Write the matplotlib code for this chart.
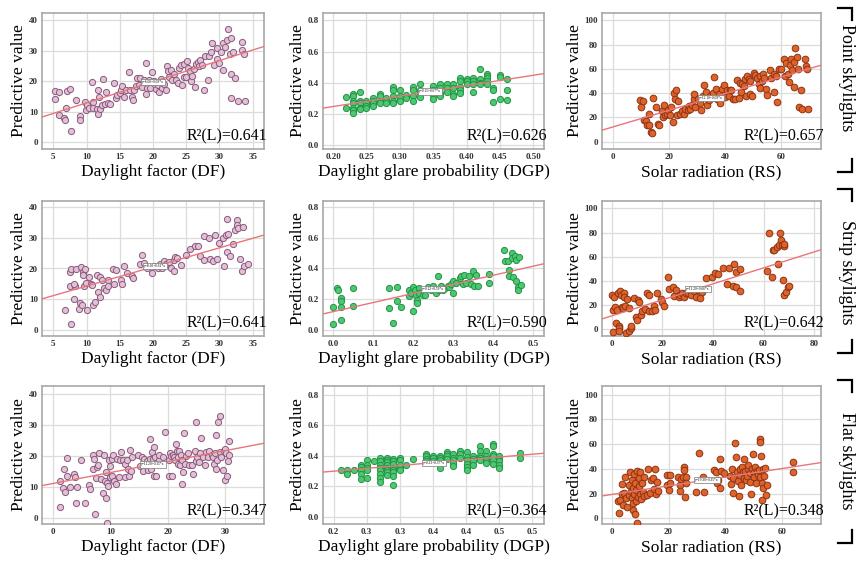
import numpy as np
import matplotlib
matplotlib.use("Agg")
import matplotlib.pyplot as plt

plt.rcParams['font.family'] = ['Liberation Serif', 'DejaVu Serif']

# ---- data (x, predictive value) ----
df_point = [(5.2, 16.8), (5.3, 14.1), (5.9, 16.5), (5.8, 8.8), (6.6, 8.0), (6.8, 7.4), (6.9, 11.3), (7.0, 16.8),
            (7.5, 17.6), (7.6, 3.8), (8.4, 14.0), (9.0, 8.5), (9.0, 7.2), (9.8, 13.2), (9.9, 10.5), (10.1, 12.3),
            (10.4, 11.2), (10.8, 19.8), (10.9, 13.2), (11.0, 11.3), (11.5, 11.0), (11.8, 17.1), (11.9, 14.9),
            (11.8, 9.3), (12.0, 11.0), (12.3, 12.1), (12.5, 20.9), (12.8, 12.4), (13.0, 16.5), (13.3, 12.9),
            (13.6, 12.6), (14.1, 19.4), (14.5, 14.4), (14.6, 15.5), (15.0, 16.2), (15.2, 17.3), (15.4, 18.4),
            (15.7, 14.9), (16.0, 17.3), (16.4, 23.1), (16.6, 17.3), (16.9, 14.9), (17.0, 14.0), (17.1, 17.1),
            (17.4, 18.4), (17.6, 21.2), (17.9, 18.7), (18.0, 21.2), (18.4, 18.1), (18.6, 20.3), (18.9, 15.9),
            (19.0, 26.0), (19.1, 17.9), (19.4, 20.3), (19.6, 17.9), (19.9, 23.1), (20.2, 20.2), (20.4, 17.6),
            (20.7, 18.7), (20.9, 16.5), (21.2, 20.9), (21.3, 17.9), (21.7, 19.2), (21.9, 17.0), (22.1, 24.9),
            (22.2, 23.4), (22.4, 21.4), (22.7, 23.6), (22.8, 20.3), (23.1, 22.3), (23.4, 20.5), (23.7, 19.5),
            (23.9, 24.2), (24.2, 25.3), (24.4, 18.8), (24.6, 21.3), (24.7, 25.8), (24.9, 21.3), (25.1, 26.6),
            (25.2, 24.5), (25.5, 23.4), (25.7, 20.2), (25.9, 21.8), (26.1, 24.0), (26.3, 18.1), (26.4, 25.8),
            (26.7, 26.4), (26.9, 24.9), (27.1, 26.9), (27.4, 25.3), (27.6, 17.0), (27.8, 28.2), (28.2, 20.3),
            (28.4, 28.2), (28.7, 29.7), (28.9, 32.4), (29.2, 25.3), (29.6, 30.8), (29.7, 27.2), (29.9, 26.0),
            (30.2, 29.7), (30.5, 23.6), (30.6, 32.6), (30.8, 31.3), (31.2, 33.7), (31.3, 37.0), (31.6, 29.1),
            (31.7, 14.6), (31.8, 34.1), (31.8, 22.3), (32.1, 29.7), (32.4, 21.2), (32.8, 13.5), (33.4, 33.0),
            (33.4, 30.2), (33.7, 29.1), (33.8, 13.5)]

dgp_point = [(0.22, 0.305), (0.22, 0.239),
             (0.23, 0.327), (0.23, 0.311), (0.23, 0.283), (0.23, 0.268), (0.23, 0.239), (0.23, 0.224), (0.23, 0.202),
             (0.24, 0.34), (0.24, 0.283), (0.24, 0.268), (0.24, 0.239), (0.24, 0.228),
             (0.25, 0.283), (0.25, 0.268), (0.25, 0.252), (0.25, 0.239),
             (0.26, 0.30), (0.26, 0.283), (0.26, 0.268), (0.26, 0.252),
             (0.27, 0.327), (0.27, 0.311), (0.27, 0.283), (0.27, 0.268),
             (0.28, 0.30), (0.28, 0.283), (0.28, 0.268),
             (0.29, 0.371), (0.29, 0.355), (0.29, 0.311), (0.29, 0.283), (0.29, 0.268),
             (0.30, 0.349), (0.30, 0.311), (0.30, 0.30), (0.30, 0.283),
             (0.31, 0.322), (0.31, 0.30),
             (0.32, 0.371), (0.32, 0.349), (0.32, 0.311), (0.32, 0.283),
             (0.33, 0.393), (0.33, 0.355), (0.33, 0.333), (0.33, 0.305),
             (0.35, 0.377), (0.35, 0.349), (0.35, 0.322), (0.35, 0.296),
             (0.36, 0.388), (0.36, 0.362), (0.36, 0.333), (0.36, 0.311),
             (0.37, 0.393), (0.37, 0.362), (0.37, 0.34),
             (0.38, 0.393), (0.38, 0.366), (0.38, 0.327), (0.38, 0.311),
             (0.39, 0.432), (0.39, 0.41), (0.39, 0.371), (0.39, 0.349), (0.39, 0.333),
             (0.40, 0.421), (0.40, 0.41), (0.40, 0.393),
             (0.41, 0.428), (0.41, 0.41), (0.41, 0.393), (0.41, 0.34),
             (0.42, 0.487), (0.42, 0.421), (0.42, 0.399), (0.42, 0.388),
             (0.43, 0.458), (0.43, 0.443), (0.43, 0.428), (0.43, 0.41), (0.43, 0.393),
             (0.44, 0.366), (0.44, 0.349), (0.44, 0.274),
             (0.45, 0.45), (0.45, 0.436), (0.45, 0.296),
             (0.46, 0.421), (0.46, 0.355), (0.46, 0.289)]

rs_point = [(9.9, 34.0), (10.1, 28.5), (10.8, 33.2), (11.3, 17.7), (12.0, 16.8), (12.2, 14.1), (12.8, 23.1),
            (12.8, 14.1), (13.7, 8.2), (14.0, 6.8), (14.4, 35.9), (15.6, 28.5), (16.0, 14.9), (16.4, 13.6),
            (17.6, 25.0), (17.9, 20.4), (18.2, 29.9), (18.8, 21.7), (19.2, 23.1), (19.6, 25.8), (20.4, 21.7),
            (20.8, 28.5), (21.5, 16.3), (22.0, 40.2), (22.3, 35.3), (22.7, 42.9), (23.0, 22.3), (23.2, 33.2),
            (23.9, 23.1), (24.7, 25.0), (25.3, 23.1), (25.9, 26.6), (26.7, 25.8), (27.1, 29.3), (27.7, 27.2),
            (28.3, 30.4), (28.9, 35.3), (29.1, 39.4), (29.5, 28.5), (30.3, 35.3), (31.0, 32.1), (31.5, 25.8),
            (32.2, 37.5), (32.7, 46.7), (33.4, 41.3), (33.7, 29.9), (34.2, 34.0), (34.8, 38.0), (35.7, 40.2),
            (36.2, 53.0), (36.9, 43.5), (37.2, 35.3), (37.8, 39.4), (38.4, 32.1), (38.9, 43.5), (39.5, 46.7),
            (40.1, 36.7), (40.7, 42.9), (41.3, 37.5), (41.7, 42.9), (42.2, 42.9), (42.9, 35.3), (43.7, 35.3),
            (44.3, 51.1), (44.9, 35.9), (45.3, 48.4), (45.7, 40.8), (46.1, 47.6), (46.7, 45.7), (47.3, 51.6),
            (47.6, 38.0), (47.9, 53.8), (48.5, 51.6), (48.8, 39.4), (49.0, 50.3), (49.6, 38.0), (50.2, 56.5),
            (50.8, 54.9), (51.4, 52.2), (52.0, 47.6), (52.4, 44.0), (52.6, 53.8), (53.2, 50.3), (53.6, 56.0),
            (54.0, 52.2), (54.7, 43.5), (55.0, 38.6), (55.9, 58.7), (56.4, 52.2), (57.4, 41.3), (57.6, 56.0),
            (58.3, 54.3), (58.6, 32.6), (59.1, 60.1), (60.0, 60.1), (60.9, 67.9), (61.5, 54.3), (61.9, 65.2),
            (62.3, 56.0), (62.7, 48.9), (63.1, 63.0), (63.5, 68.5), (63.9, 59.2), (64.5, 65.8), (64.7, 44.8),
            (65.0, 77.4), (65.7, 70.1), (65.9, 59.8), (66.3, 28.5), (66.9, 42.9), (67.5, 27.2), (68.6, 68.5),
            (69.0, 62.5), (69.2, 59.8), (69.5, 26.6)]

df_strip = [(6.8, 6.6), (7.5, 18.9), (7.6, 19.7), (7.5, 14.2), (7.6, 2.0), (8.1, 10.2), (8.3, 14.2), (8.1, 15.1),
            (8.4, 19.9), (8.9, 6.9), (9.0, 8.7), (9.1, 20.5), (9.3, 8.0), (9.4, 18.9), (9.5, 17.8), (9.6, 14.2),
            (9.8, 19.9), (9.9, 15.3), (10.1, 6.6), (10.3, 17.3), (10.6, 14.9), (10.8, 14.5), (11.0, 8.0),
            (11.2, 9.1), (11.6, 18.0), (11.8, 12.4), (12.1, 17.3), (12.1, 10.7), (12.3, 16.4), (12.6, 13.8),
            (13.0, 13.1), (13.2, 16.2), (13.3, 14.2), (14.0, 19.9), (14.2, 14.9), (14.5, 19.5), (15.2, 16.2),
            (15.4, 14.9), (15.7, 20.8), (16.1, 18.4), (16.9, 17.5), (17.0, 17.0), (18.0, 21.6), (18.4, 24.4),
            (18.7, 21.9), (19.1, 20.3), (19.9, 18.6), (20.2, 20.8), (20.7, 20.3), (21.1, 21.6), (21.4, 20.3),
            (21.7, 22.5), (21.9, 21.6), (22.4, 22.2), (22.7, 20.3), (23.1, 22.7), (23.2, 19.2), (23.3, 23.6),
            (23.6, 23.3), (24.2, 21.1), (24.9, 24.4), (25.6, 26.2), (26.3, 27.3), (26.7, 27.3), (27.1, 24.0),
            (27.6, 30.6), (27.7, 22.7), (28.5, 29.8), (28.6, 23.0), (29.0, 22.5), (29.3, 30.8), (29.7, 23.0),
            (30.0, 28.4), (30.5, 29.8), (30.7, 20.8), (31.0, 30.8), (31.1, 36.1), (31.1, 25.3), (31.3, 31.2),
            (31.6, 24.2), (32.1, 27.9), (32.4, 32.5), (32.6, 35.6), (32.7, 34.2), (32.8, 33.1), (33.1, 23.0),
            (33.4, 19.2), (33.6, 33.6), (33.7, 20.8), (34.3, 21.6)]

dgp_strip = [(0.0, 0.152), (0.0, 0.039), (0.011, 0.272), (0.012, 0.261), (0.021, 0.207), (0.021, 0.191),
             (0.021, 0.152), (0.021, 0.065), (0.050, 0.272), (0.050, 0.157), (0.139, 0.272), (0.139, 0.141),
             (0.151, 0.043), (0.159, 0.278), (0.159, 0.191), (0.170, 0.148), (0.19, 0.261), (0.19, 0.222),
             (0.195, 0.243), (0.2, 0.278), (0.201, 0.120), (0.205, 0.261), (0.207, 0.228), (0.21, 0.196),
             (0.211, 0.178), (0.214, 0.272), (0.216, 0.243), (0.224, 0.228), (0.231, 0.228), (0.237, 0.278),
             (0.245, 0.261), (0.251, 0.283), (0.257, 0.239), (0.261, 0.352), (0.264, 0.261), (0.270, 0.287),
             (0.274, 0.261), (0.280, 0.272), (0.286, 0.287), (0.290, 0.278), (0.295, 0.300), (0.3, 0.315),
             (0.3, 0.239), (0.307, 0.304), (0.317, 0.337), (0.320, 0.348), (0.324, 0.300), (0.328, 0.359),
             (0.332, 0.304), (0.340, 0.348), (0.344, 0.300), (0.349, 0.380), (0.351, 0.287), (0.357, 0.359),
             (0.361, 0.283), (0.390, 0.365), (0.390, 0.304), (0.427, 0.517), (0.430, 0.446), (0.436, 0.446),
             (0.440, 0.391), (0.440, 0.348), (0.446, 0.500), (0.448, 0.467), (0.450, 0.343), (0.455, 0.478),
             (0.456, 0.457), (0.458, 0.315), (0.461, 0.278), (0.463, 0.261), (0.465, 0.474), (0.469, 0.293)]

rs_strip = [(0.1, 28.5), (0.4, 16.3), (0.7, -2.2), (1.1, 26.6), (1.5, 18.5), (1.7, 5.4), (2.0, 15.8), (2.4, 30.4),
            (2.8, 2.7), (3.0, 1.4), (3.0, -1.4), (3.3, 32.1), (3.7, 28.5), (4.1, 18.5), (4.4, 17.7), (5.0, 30.4),
            (5.0, 26.6), (5.4, 19.7), (5.7, -2.7), (6.0, 25.0), (6.7, 17.7), (7.0, -1.4), (7.7, 1.4), (7.7, 2.7),
            (9.0, 25.8), (9.7, 10.3), (9.9, 8.2), (10.3, 24.2), (11.0, 22.3), (11.6, 12.2), (12.0, 14.9),
            (13.0, 16.8), (13.9, 30.4), (14.7, 28.5), (14.9, 14.9), (16.0, 14.9), (16.9, 19.6), (17.3, 15.8),
            (17.9, 29.9), (19.6, 25.0), (20.0, 22.3), (20.5, 19.6), (22.2, 42.9), (22.6, 33.2), (24.2, 34.8),
            (24.5, 27.2), (25.3, 32.6), (26.6, 26.6), (27.1, 28.5), (27.9, 29.9), (28.4, 26.6), (29.2, 29.9),
            (30.2, 30.4), (30.8, 32.6), (31.5, 28.5), (32.4, 32.1), (33.2, 26.6), (34.1, 32.6), (34.8, 25.8),
            (35.8, 31.3), (37.2, 42.1), (39.8, 43.5), (40.7, 46.2), (42.1, 45.7), (43.8, 51.1), (45.6, 37.5),
            (46.4, 51.1), (47.8, 35.9), (48.3, 53.8), (49.1, 34.8), (49.3, 47.6), (50.7, 50.3), (50.9, 32.1),
            (61.5, 48.4), (62.3, 79.3), (63.2, 42.9), (63.6, 65.8), (64.2, 65.8), (65.2, 67.9), (65.9, 54.3),
            (66.3, 69.3), (66.6, 79.3), (66.8, 73.9), (67.2, 70.1), (67.6, 40.8), (67.9, 68.5), (67.9, 28.5),
            (68.1, 70.7), (68.9, 31.3), (69.8, 34.8), (70.2, 35.9)]

df_flat = [(1.3, 3.8), (1.3, 11.9), (1.7, 9.7), (2.0, 15.9), (2.1, 8.6), (2.4, 19.5), (2.5, 13.5), (3.0, 10.1),
           (3.7, 14.1), (3.9, 13.3), (4.0, 4.9), (4.1, 10.1), (4.8, 18.7), (5.6, 5.1), (6.3, 10.8), (6.4, 9.4),
           (6.9, 20.5), (7.0, 15.7), (7.2, 19.1), (7.3, 1.4), (7.5, 13.0), (7.6, 16.5), (7.9, 17.3), (8.0, 20.9),
           (8.4, 12.6), (8.7, 8.3), (8.9, 20.5), (9.0, 11.9), (9.2, 6.5), (9.3, 14.8), (9.4, -1.4), (9.4, 11.4),
           (9.6, 10.5), (9.8, 18.7), (9.9, 13.3), (10.0, 16.8), (10.2, 19.1), (10.3, 13.7), (10.5, 20.2),
           (10.7, 11.9), (10.9, 11.1), (11.1, 19.1), (11.5, 13.3), (11.7, 18.9), (11.9, 21.3), (12.2, 18.7),
           (12.5, 13.3), (12.6, 17.6), (12.9, 18.7), (13.0, 15.9), (13.2, 13.7), (13.4, 21.9), (13.6, 15.1),
           (13.8, 19.8), (14.8, 20.2), (15.1, 16.8), (15.5, 19.8), (15.7, 15.1), (15.9, 19.1), (16.3, 18.4),
           (16.5, 15.5), (16.8, 19.1), (16.9, 25.6), (17.1, 15.7), (17.2, 21.3), (17.4, 19.1), (17.5, 23.0),
           (17.6, 13.5), (17.8, 19.8), (17.9, 13.5), (18.4, 18.7), (18.5, 20.2), (19.1, 19.8), (19.5, 27.6),
           (20.1, 18.7), (20.2, 13.7), (20.3, 20.9), (20.5, 20.0), (20.7, 13.7), (20.8, 20.5), (21.1, 19.8),
           (21.3, 18.9), (21.4, 23.8), (21.5, 21.6), (21.7, 17.6), (21.8, 19.8), (22.0, 21.6), (22.1, 17.0),
           (22.2, 20.5), (22.4, 11.1), (22.5, 18.9), (22.6, 14.8), (22.8, 27.4), (23.0, 17.6), (23.1, 20.0),
           (23.4, 20.9), (23.7, 17.3), (24.1, 17.0), (24.4, 14.1), (24.7, 21.6), (24.8, 18.4), (24.9, 31.0),
           (25.1, 19.8), (25.4, 18.1), (25.5, 21.1), (25.7, 25.9), (26.1, 19.8), (26.4, 17.3), (26.7, 21.3),
           (27.0, 19.8), (27.2, 21.6), (27.6, 20.2), (27.8, 19.8), (28.0, 17.6), (28.2, 20.9), (28.3, 26.7),
           (28.4, 15.9), (28.6, 18.9), (28.7, 31.0), (29.0, 21.3), (29.1, 33.0), (29.3, 19.8), (29.5, 15.5),
           (29.7, 21.6), (29.9, 12.4), (30.0, 22.4), (30.1, 21.1), (30.3, 13.7), (30.5, 18.4), (30.6, 24.9),
           (30.7, 20.5)]

dgp_flat = [(0.211, 0.304), (0.221, 0.304), (0.221, 0.283), (0.231, 0.309),
            (0.241, 0.343), (0.241, 0.326), (0.241, 0.304), (0.241, 0.278), (0.241, 0.25),
            (0.251, 0.374), (0.251, 0.343), (0.251, 0.322), (0.251, 0.304), (0.251, 0.257),
            (0.261, 0.365),
            (0.270, 0.387), (0.270, 0.365), (0.270, 0.343), (0.270, 0.322), (0.270, 0.304), (0.270, 0.283),
            (0.270, 0.257), (0.270, 0.228),
            (0.280, 0.387), (0.280, 0.374), (0.280, 0.359), (0.280, 0.343), (0.280, 0.322), (0.280, 0.304),
            (0.280, 0.293), (0.280, 0.272),
            (0.290, 0.380), (0.290, 0.365), (0.290, 0.348), (0.290, 0.322), (0.290, 0.309), (0.290, 0.293),
            (0.290, 0.265), (0.290, 0.207),
            (0.300, 0.387), (0.300, 0.370), (0.300, 0.343), (0.300, 0.322), (0.300, 0.304),
            (0.310, 0.343), (0.320, 0.380),
            (0.340, 0.413), (0.340, 0.396), (0.340, 0.380), (0.340, 0.365),
            (0.350, 0.400), (0.350, 0.387), (0.350, 0.365),
            (0.361, 0.396), (0.361, 0.387), (0.361, 0.374), (0.361, 0.322),
            (0.371, 0.422), (0.371, 0.413), (0.371, 0.396), (0.371, 0.380),
            (0.381, 0.409), (0.381, 0.387), (0.381, 0.370), (0.381, 0.352), (0.381, 0.330),
            (0.391, 0.435), (0.391, 0.409), (0.391, 0.387),
            (0.401, 0.426), (0.401, 0.393), (0.401, 0.370), (0.401, 0.348), (0.401, 0.326), (0.401, 0.309),
            (0.411, 0.396), (0.411, 0.380), (0.411, 0.365), (0.411, 0.343),
            (0.421, 0.467), (0.421, 0.430), (0.421, 0.402), (0.421, 0.387), (0.421, 0.370),
            (0.431, 0.430), (0.431, 0.400), (0.431, 0.380), (0.431, 0.365), (0.431, 0.352),
            (0.441, 0.478), (0.441, 0.467), (0.441, 0.413), (0.441, 0.396), (0.441, 0.374), (0.441, 0.348),
            (0.450, 0.400), (0.450, 0.380), (0.450, 0.365), (0.450, 0.337), (0.450, 0.322),
            (0.482, 0.417), (0.482, 0.387)]

rs_flat = [(2.0, 14.3), (2.4, 4.6), (2.9, 14.9), (3.5, 27.8), (3.5, 19.7), (3.9, 10.8), (4.4, 20.8), (4.7, 33.2),
           (5.1, 16.2), (5.3, 9.5), (5.9, 18.9), (6.2, 27.0), (6.5, 37.8), (6.7, 22.4), (7.1, 16.2), (7.1, 31.1),
           (7.4, 24.3), (7.4, 6.8), (7.6, 12.7), (7.9, 35.9), (7.9, 19.7), (8.2, 28.9), (8.2, 3.5), (8.6, 23.0),
           (8.6, 14.3), (8.8, -3.5), (8.8, 38.6), (9.1, 17.6), (9.4, 32.4), (9.4, 26.2), (9.8, 19.7), (10.0, 37.8),
           (10.2, 15.4), (10.6, 28.4), (10.9, 21.6), (11.2, 33.2), (11.4, 18.1), (12.4, 18.9), (12.6, 39.7),
           (13.3, 20.3), (13.8, 31.1), (14.5, 32.4), (14.9, 23.5), (15.3, 39.7), (15.6, 19.7), (15.9, 29.7),
           (16.1, 22.4), (19.4, 35.1), (19.6, 27.0), (20.0, 23.0), (20.4, 35.1), (20.6, 28.9), (23.5, 33.8),
           (23.9, 27.0), (24.1, 22.4), (24.4, 31.6), (25.1, 33.2), (25.3, 41.9), (25.5, 39.2), (25.9, 17.6),
           (26.2, 33.2), (26.2, 28.4), (29.8, 21.6), (30.6, 52.7), (32.1, 33.8), (32.4, 21.6), (36.1, 39.2),
           (36.8, 37.8), (37.1, 28.9), (37.6, 31.1), (38.0, 47.8), (38.0, 24.3), (38.5, 38.6), (39.4, 37.0),
           (41.8, 34.3), (42.0, 27.8), (42.4, 39.7), (42.7, 20.8), (42.9, 32.4), (43.5, 60.8), (43.9, 49.5),
           (44.1, 37.8), (44.4, 30.5), (44.7, 18.1), (45.1, 39.7), (45.3, 35.1), (45.5, 27.0), (45.9, 41.9),
           (46.2, 37.8), (46.5, 32.4), (46.7, 47.8), (47.1, 38.6), (47.4, 31.1), (47.6, 34.3), (47.9, 39.7),
           (48.2, 43.2), (48.6, 37.0), (48.8, 29.7), (49.1, 19.7), (49.4, 39.7), (49.8, 52.2), (50.0, 37.8),
           (50.2, 33.2), (50.6, 41.9), (50.9, 28.4), (51.2, 38.6), (51.4, 35.1), (51.8, 39.2), (52.1, 33.2),
           (52.4, 64.1), (52.4, 61.4), (52.6, 50.5), (52.9, 28.9), (52.9, 14.9), (53.3, 39.7), (53.5, 24.3),
           (53.8, 34.3), (54.1, 40.5), (54.5, 18.9), (54.7, 27.0), (63.9, 45.9), (63.9, 37.8)]

# fitted lines (intercept, slope) and the R2 values printed on each panel
fits = [(6.0, 0.693), (0.111, 0.672), (12.1, 0.686),
        (8.1, 0.62), (0.119, 0.59), (11.2, 0.66),
        (11.2, 0.352), (0.225, 0.371), (19.3, 0.349)]
r2_values = ["0.641", "0.626", "0.657", "0.641", "0.590", "0.642", "0.347", "0.364", "0.348"]
eq_x = [20, 0.345, 35, 20.3, 0.25, 34, 17.4, 0.352, 33.5]

x_labels = ["Daylight factor (DF)", "Daylight glare probability (DGP)", "Solar radiation (RS)"]
row_labels = ["Point skylights", "Strip skylights", "Flat skylights"]

xlims = [(3.3, 36.7), (0.185, 0.516), (-3.8, 74.2),
         (3.3, 36.7), (-0.025, 0.527), (-3.8, 82.7),
         (-1.9, 36.7), (0.184, 0.518), (-3.5, 73.8)]
ylims = [(-2.2, 42.4), (-0.028, 0.848), (-6, 106),
         (-1.9, 41.9), (-0.039, 0.837), (-5.4, 106),
         (-1.8, 42.5), (-0.048, 0.859), (-4.6, 107)]
xticks = [np.arange(5, 36, 5), np.arange(0.20, 0.51, 0.05), np.arange(0, 61, 20),
          np.arange(5, 36, 5), np.arange(0.0, 0.51, 0.1), np.arange(0, 81, 20),
          np.arange(0, 31, 10), np.arange(0.20, 0.51, 0.05), np.arange(0, 61, 20)]
xtick_fmt = ["{:.0f}", "{:.2f}", "{:.0f}", "{:.0f}", "{:.1f}", "{:.0f}", "{:.0f}", None, "{:.0f}"]
flat_dgp_ticklabels = ["0.2", "0.3", "0.3", "0.4", "0.4", "0.5", "0.5"]
yticks = [np.arange(0, 41, 10), np.arange(0, 0.81, 0.2), np.arange(0, 101, 20)]
ytick_fmt = ["{:.0f}", "{:.1f}", "{:.0f}"]

datasets = [df_point, dgp_point, rs_point, df_strip, dgp_strip, rs_strip, df_flat, dgp_flat, rs_flat]
face_cols = ["#e2c0d6", "#4cc96e", "#e0622b"]
edge_cols = ["#8a5a7c", "#24924a", "#8a3414"]
marker_size = [20, 20, 23]

W, H = 857, 561
fig = plt.figure(figsize=(W / 100, H / 100), dpi=100)

col_lr = [(42, 264), (323, 544), (602, 821)]
row_tb = [(13, 149), (201, 336), (386, 524)]

for i, pts in enumerate(datasets):
    r, c = divmod(i, 3)
    l, rr = col_lr[c]
    t, b = row_tb[r]
    ax = fig.add_axes([l / W, 1 - b / H, (rr - l) / W, (b - t) / H])
    xy = np.array(pts)
    ax.grid(True, color="#dcdcdc", linewidth=0.9)
    ax.set_axisbelow(True)
    ax.scatter(xy[:, 0], xy[:, 1], s=marker_size[c], c=face_cols[c], edgecolors=edge_cols[c],
               linewidths=0.7, zorder=3)
    x0, x1 = xlims[i]
    a, k = fits[i]
    xs = np.array([x0, x1])
    ax.plot(xs, a + k * xs, color="#e8767a", linewidth=1.0, zorder=4)
    ex = eq_x[i]
    ax.text(ex, a + k * ex, "y={:.2f}+{:.2f}*x".format(a, k), fontsize=2.6,
            ha="center", va="center", zorder=5,
            bbox=dict(boxstyle="square,pad=0.3", fc="white", ec="#777777", lw=0.5))
    ax.set_xlim(x0, x1)
    ax.set_ylim(*ylims[i])
    ax.set_xticks(xticks[i])
    if xtick_fmt[i] is None:
        ax.set_xticklabels(flat_dgp_ticklabels)
    else:
        ax.set_xticklabels([xtick_fmt[i].format(v) for v in xticks[i]])
    ax.set_yticks(yticks[c])
    ax.set_yticklabels([ytick_fmt[c].format(v) for v in yticks[c]])
    ax.tick_params(length=0, pad=3, labelsize=6.5, labelcolor="#333333")
    for lab in ax.get_xticklabels() + ax.get_yticklabels():
        lab.set_fontweight("bold")
    for sp in ax.spines.values():
        sp.set_color("#a8a8a8")
        sp.set_linewidth(1.2)
    ax.set_xlabel(x_labels[c], fontsize=12.5, labelpad=2)
    ax.set_ylabel("Predictive value", fontsize=12.5, labelpad=1)
    ax.text(1.015, 0.035, "R\u00b2(L)=" + r2_values[i], transform=ax.transAxes,
            fontsize=11.5, ha="right", va="bottom", zorder=6)

# row labels with corner brackets on the right edge
over = fig.add_axes([0, 0, 1, 1], facecolor="none")
over.set_xlim(0, W)
over.set_ylim(H, 0)
over.axis("off")
bracket_top = [8, 189, 380]
bracket_bot = [172, 353, 543]
label_mid = [78, 272, 461]
for r in range(3):
    tp, bt = bracket_top[r], bracket_bot[r]
    over.plot([838, 852, 852], [tp, tp, tp + 12], color="black", lw=1.6, solid_joinstyle="miter")
    over.plot([838, 852, 852], [bt, bt, bt - 13], color="black", lw=1.6, solid_joinstyle="miter")
    over.text(847, label_mid[r], row_labels[r], rotation=-90, fontsize=13,
              ha="center", va="center")

fig.savefig("out.png", dpi=100)
